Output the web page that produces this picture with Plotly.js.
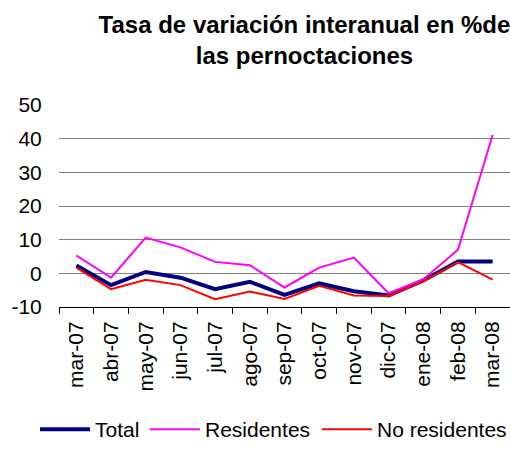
<!DOCTYPE html>
<html>
<head>
<meta charset="utf-8">
<script src="https://cdn.plot.ly/plotly-3.0.1.min.js"></script>
<style>html,body{margin:0;padding:0;background:#fff;}#chart{width:510px;height:450px;}</style>
</head>
<body>
<div id="chart"></div>
<script>
const months = ["mar-07","abr-07","may-07","jun-07","jul-07","ago-07","sep-07","oct-07","nov-07","dic-07","ene-08","feb-08","mar-08"];
const total = [2.3,-3.5,0.4,-1.3,-4.7,-2.5,-6.4,-3.0,-5.3,-6.6,-2.1,3.5,3.5];
const residentes = [5.3,-1.3,10.6,7.7,3.4,2.4,-4.2,1.7,4.7,-5.9,-1.8,7.0,41.1];
const noResidentes = [1.7,-4.7,-1.9,-3.5,-7.7,-5.4,-7.6,-3.7,-6.6,-6.7,-2.4,3.3,-1.9];
const yTicks = [-10,0,10,20,30,40,50];

const traces = [
  {x: months, y: total, name: "Total", type: "scatter", mode: "lines", line: {color: "#000080", width: 4}, legend: "legend"},
  {x: months, y: residentes, name: "Residentes", type: "scatter", mode: "lines", line: {color: "#FF00FF", width: 2}, legend: "legend2"},
  {x: months, y: noResidentes, name: "No residentes", type: "scatter", mode: "lines", line: {color: "#FF0000", width: 2}, legend: "legend3"}
];

function leg(xpx) {
  return {
    orientation: "h",
    xref: "container", yref: "container",
    x: xpx / 510, xanchor: "left",
    y: 0, yanchor: "bottom",
    font: {size: 21, color: "#000"},
    itemwidth: 50,
    bgcolor: "rgba(0,0,0,0)",
    borderwidth: 0
  };
}

const layout = {
  width: 510, height: 450,
  margin: {l: 59, r: 0, t: 105, b: 143},
  paper_bgcolor: "#fff", plot_bgcolor: "#fff",
  font: {family: "Liberation Sans, Arial, sans-serif", size: 21, color: "#000"},
  title: {
    text: "<b>Tasa de variación interanual en %de<br>las pernoctaciones</b>",
    font: {family: "Liberation Sans, Arial, sans-serif", size: 24, color: "#000"},
    x: 0.597, xanchor: "center", xref: "container",
    y: 0.927, yanchor: "middle", yref: "container"
  },
  xaxis: {
    type: "category",
    range: [-0.5, 12.5],
    tickangle: -90,
    tickson: "boundaries",
    ticks: "outside", ticklen: 6, tickcolor: "#000",
    showline: true, linecolor: "#000", linewidth: 1,
    showgrid: false, zeroline: false,
    ticklabelstandoff: 5,
    tickfont: {size: 21}
  },
  yaxis: {
    range: [-10, 50],
    tickvals: yTicks,
    ticktext: yTicks.map(String),
    showgrid: true, gridcolor: "#808080", gridwidth: 1,
    zeroline: false, showline: false,
    ticks: "outside", ticklen: 12, tickcolor: "rgba(255,255,255,0)",
    tickfont: {size: 21}
  },
  showlegend: true,
  legend: leg(35),
  legend2: leg(145),
  legend3: leg(317)
};

Plotly.newPlot("chart", traces, layout, {displayModeBar: false, staticPlot: true});
</script>
</body>
</html>
